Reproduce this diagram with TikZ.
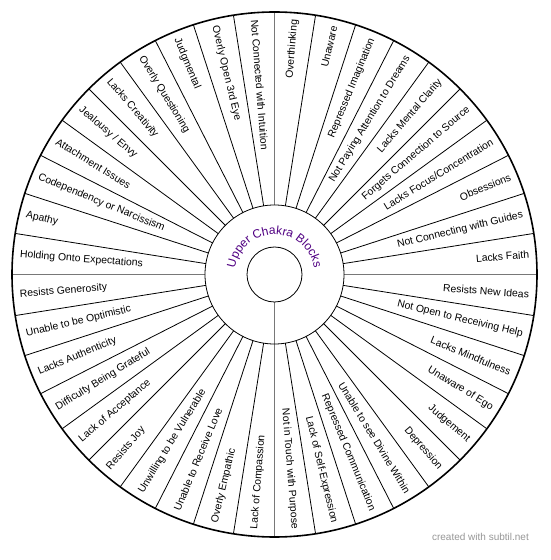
\documentclass[tikz,border=0pt]{standalone}
\usepackage{fontspec}
\setmainfont{Liberation Sans}
\usetikzlibrary{decorations.text}
\definecolor{chakra}{RGB}{80,0,130}
\definecolor{axisgray}{RGB}{120,120,120}
\definecolor{markgray}{RGB}{150,150,150}
\begin{document}
\begin{tikzpicture}[x=1pt,y=1pt,
  lbl/.style={inner sep=0pt, font=\fontsize{10.4}{12}\selectfont},
  divider/.style={line width=0.8pt, black},
  axisline/.style={line width=1.6pt, axisgray},
  rim/.style={line width=1.6pt, black},
  ringline/.style={line width=0.8pt, black},
]
\useasboundingbox (0,0) rectangle (550,560);
\begin{scope}[shift={(274.5,285.5)}]
  \coordinate (C) at (0,0);
  % dividers
  \foreach \i in {0,...,39} {
    \pgfmathsetmacro\d{90-9*\i}
    \draw[divider] (\d:69.5) -- (\d:262.5);
  }
  % cardinal lines
  \draw[axisline] (90:69.5) -- (90:262.5);
  \draw[axisline] (0:69.5) -- (0:262.5);
  \draw[axisline] (180:69.5) -- (180:262.5);
  \draw[axisline] (270:27.5) -- (270:262.5);
  % circles
  \draw[rim] (C) circle[radius=262.5];
  \draw[ringline] (C) circle[radius=69.5];
  \draw[ringline] (C) circle[radius=27.5];
  % title
  \path[decorate, decoration={text along path, text color=chakra,
      text={|\fontsize{12}{12}\selectfont|Upper Chakra Blocks}, text align=center}]
    (170:40) arc[start angle=170, end angle=10, radius=40];
  % labels
  \foreach \t [count=\i from 0] in {{Overthinking},{Unaware},{Repressed Imagination},
    {Not Paying Attention to Dreams},{Lacks Mental Clarity},{Forgets Connection to Source},
    {Lacks Focus/Concentration},{Obsessions},{Not Connecting with Guides},{Lacks Faith},
    {Resists New Ideas},{Not Open to Receiving Help},{Lacks Mindfulness},{Unaware of Ego},
    {Judgement},{Depression},{Unable to see Divine Within},{Repressed Communication},
    {Lack of Self-Expression},{Not in Touch with Purpose},{Lack of Compassion},
    {Overly Empathic},{Unable to Receive Love},{Unwilling to be Vulnerable},{Resists Joy},
    {Lack of Acceptance},{Difficulty Being Grateful},{Lacks Authenticity},
    {Unable to be Optimistic},{Resists Generosity},{Holding Onto Expectations},{Apathy},
    {Codependency or Narcissism},{Attachment Issues},{Jealousy / Envy},{Lacks Creativity},
    {Overly Questioning},{Judgmental},{Overly Open 3rd Eye},{Not Connected with Intuition}} {
    \pgfmathsetmacro\a{85.5-9*\i}
    \pgfmathsetmacro\b{\a+180}
    \ifnum\i<20
      \node[lbl, rotate=\a, anchor=east] (l\i) at (\a:255.5) {\t};
    \else
      \node[lbl, rotate=\b, anchor=west] (l\i) at (\a:255.5) {\t};
    \fi
  }
\end{scope}
\node[anchor=east, inner sep=0pt, text=markgray, font=\fontsize{10}{12}\selectfont] (mark) at (529,23) {created with subtil.net};
\end{tikzpicture}
\end{document}
